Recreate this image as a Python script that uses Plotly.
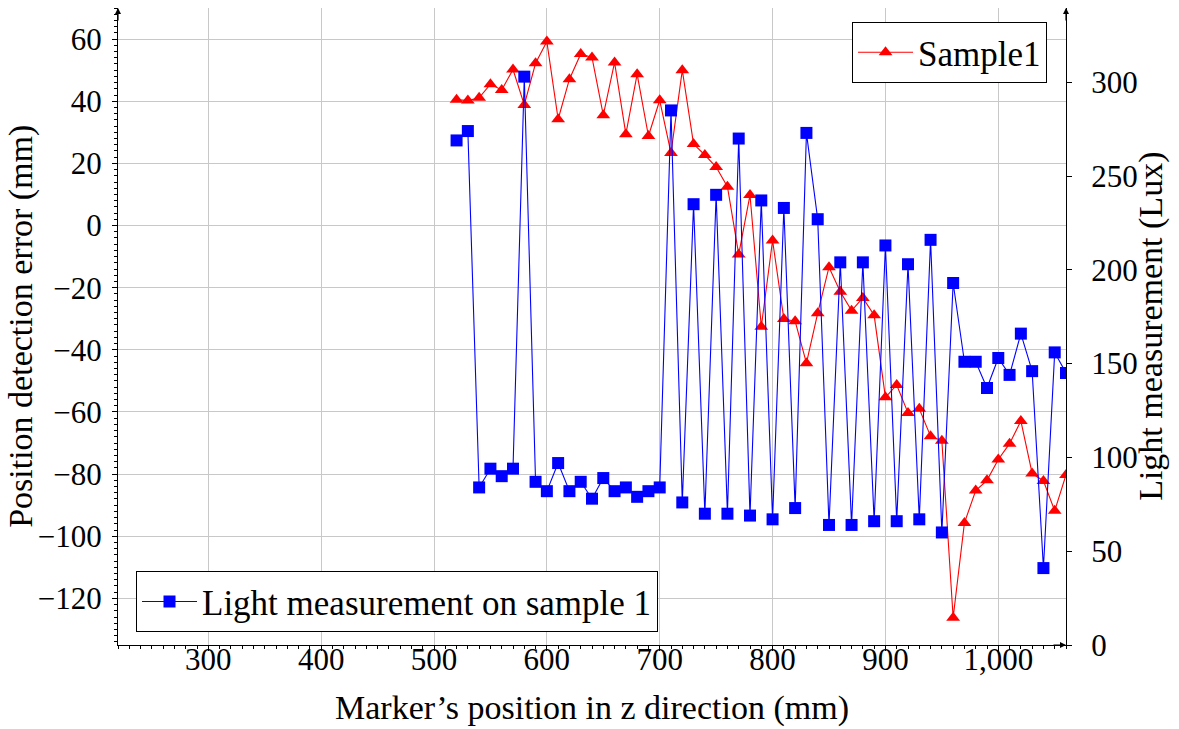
import plotly.graph_objects as go

# Marker position along z (mm)
z_mm = [520, 530, 540, 550, 560, 570, 580, 590, 600, 610,
        620, 630, 640, 650, 660, 670, 680, 690, 700, 710,
        720, 730, 740, 750, 760, 770, 780, 790, 800, 810,
        820, 830, 840, 850, 860, 870, 880, 890, 900, 910,
        920, 930, 940, 950, 960, 970, 980, 990, 1000, 1010,
        1020, 1030, 1040, 1050, 1060]

# Position detection error for Sample1 (mm)
error_mm = [40.5, 40.2, 41.1, 45.5, 43.6, 50.2, 38.8, 52.2, 59.2, 34.2,
            47.1, 55.2, 54.1, 35.5, 52.5, 29.4, 48.7, 28.8, 40.3, 23.3,
            50.0, 26.2, 22.7, 18.8, 12.5, -9.3, 9.8, -32.6, -4.8, -30.1,
            -30.8, -44.3, -28.2, -13.4, -21.3, -27.4, -23.3, -28.9, -55.3, -51.3,
            -60.3, -59.0, -67.8, -69.3, -126.2, -95.7, -85.3, -82.0, -75.3, -70.2,
            -62.9, -79.8, -82.2, -91.8, -80.3]

# Light measurement on sample 1 (Lux)
light_lux = [269, 274, 84, 94, 90, 94, 303, 87, 82, 97,
             82, 87, 78, 89, 82, 84, 79, 82, 84, 285,
             76, 235, 70, 240, 70, 270, 69, 237, 67, 233,
             73, 273, 227, 64, 204, 64, 204, 66, 213, 66,
             203, 67, 216, 60, 193, 151, 151, 137, 153, 144,
             166, 146, 41, 156, 145]

W, H = 1179, 729
ML, MR, MT, MB = 118, 113, 8, 84
FONT = "Liberation Serif"
GRID = "#c8c8c8"

fig = go.Figure()
fig.add_trace(go.Scatter(
    x=z_mm, y=error_mm, name="Sample1", mode="lines+markers",
    line=dict(color="#ff0000", width=1.1),
    marker=dict(symbol="triangle-up", size=12, color="#ff0000"),
    legend="legend",
))
fig.add_trace(go.Scatter(
    x=z_mm, y=light_lux, name="Light measurement on sample 1", mode="lines+markers",
    yaxis="y2",
    line=dict(color="#0000ff", width=1.1),
    marker=dict(symbol="square", size=12, color="#0000ff"),
    legend="legend2",
))

axis_common = dict(
    showline=True, linecolor="black", linewidth=1.2,
    ticks="outside", ticklen=5, tickcolor="black", tickwidth=1,
    zeroline=False,
    tickfont=dict(family=FONT, size=31, color="black"),
)

legend_common = dict(
    bgcolor="white", bordercolor="black", borderwidth=1,
    itemwidth=55,
    font=dict(family=FONT, size=35, color="black"),
)

fig.update_layout(
    width=W, height=H,
    margin=dict(l=ML, r=MR, t=MT, b=MB, pad=0),
    plot_bgcolor="white", paper_bgcolor="white",
    font=dict(family=FONT, size=31, color="black"),
    separators=".,",
    xaxis=dict(
        range=[220, 1060], tick0=0, dtick=100, tickformat=",d",
        showgrid=True, gridcolor=GRID, gridwidth=1,
        minor=dict(tick0=0, dtick=10, ticks="outside", ticklen=3,
                   tickcolor="black", showgrid=False),
        ticklabelstandoff=-18,
        **axis_common,
    ),
    yaxis=dict(
        range=[-135, 70], tick0=0, dtick=20,
        showgrid=True, gridcolor=GRID, gridwidth=1,
        minor=dict(tick0=0, dtick=2, ticks="outside", ticklen=3,
                   tickcolor="black", showgrid=False),
        ticklabelstandoff=4,
        **axis_common,
    ),
    yaxis2=dict(
        overlaying="y", side="right", anchor="x",
        range=[0, 339.6], tick0=0, dtick=50,
        showgrid=False,
        ticklabelstandoff=13,
        **axis_common,
    ),
    legend=dict(x=0.98, y=0.978, xanchor="right", yanchor="top", **legend_common),
    legend2=dict(x=0.019, y=0.02, xanchor="left", yanchor="bottom", **legend_common),
    showlegend=True,
)

# Axis titles
title_font = dict(family=FONT, size=34, color="black")
fig.add_annotation(text="Marker’s position in z direction (mm)", xref="paper", yref="paper",
                   x=0.5, y=-0.0995, xanchor="center", yanchor="middle",
                   showarrow=False, font=title_font)
fig.add_annotation(text="Position detection error (mm)", xref="paper", yref="paper",
                   x=-0.103, y=0.5, xanchor="center", yanchor="middle", textangle=-90,
                   showarrow=False, font=title_font)
fig.add_annotation(text="Light measurement (Lux)", xref="paper", yref="paper",
                   x=1.089, y=0.5, xanchor="center", yanchor="middle", textangle=-90,
                   showarrow=False, font=title_font)

# Arrow heads at the ends of the axis lines
for (ax_x, ax_y, dx, dy) in [(0, 1, 0, 14), (1, 1, 0, 14), (1, 0, -14, 0)]:
    fig.add_annotation(x=ax_x, y=ax_y, xref="paper", yref="paper", text="",
                       showarrow=True, ax=dx, ay=dy, arrowhead=2, arrowsize=1,
                       arrowwidth=1.2, arrowcolor="black", standoff=0)

fig.write_html("out.html")
